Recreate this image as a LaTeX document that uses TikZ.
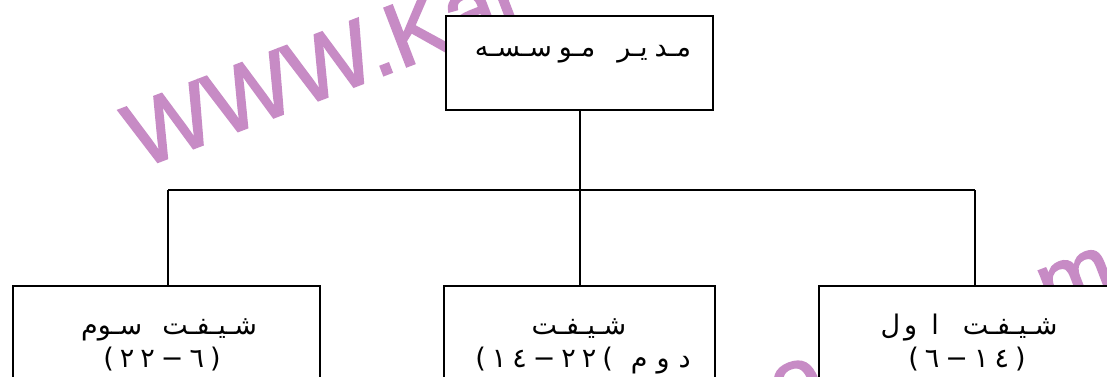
\documentclass[tikz,border=0pt]{standalone}
\usepackage{fontspec}
\setmainfont{Liberation Sans}
\newfontfamily\arabicfont[Script=Arabic]{DejaVu Sans}
\newfontfamily\digitfont{DejaVu Sans}
\newfontfamily\wmfont[FakeBold=2]{Liberation Sans}
\definecolor{wmcol}{HTML}{C78BC5}
\newcommand{\gp}{\hspace{6pt}}
\newcommand{\ar}[1]{{\arabicfont #1}}
\tikzset{
  boxnode/.style={draw=black, line width=2pt, fill=white, inner sep=0pt},
  conn/.style={draw=black, line width=1.6pt},
  lbl/.style={font=\fontsize{27}{30}\selectfont, inner sep=0pt, anchor=base},
  wmtext/.style={font=\wmfont\fontsize{91}{100}\selectfont, text=wmcol, inner sep=0pt, anchor=base west, rotate=21}
}
\begin{document}
\begin{tikzpicture}[x=1pt,y=-1pt]
\useasboundingbox (0,0) rectangle (1107,377);
\clip (0,0) rectangle (1107,377);
\fill[white] (0,0) rectangle (1107,377);
% watermark (behind everything)
\node[wmtext] (wm1) at (140,169) {WWW.Kar};
\node[wmtext, anchor=base] (wm2) at (806,409) {o};
\node[wmtext, anchor=base west] (wm3) at (1050,318) {m};
% boxes
\node[boxnode, minimum width=267pt, minimum height=94pt] (top) at (579.5,63) {};
\node[boxnode, minimum width=307pt, minimum height=120pt] (s3) at (166.5,346) {};
\node[boxnode, minimum width=271pt, minimum height=120pt] (s2) at (579.5,346) {};
\node[boxnode, minimum width=301pt, minimum height=120pt] (s1) at (969.5,346) {};
% connectors
\coordinate (jm) at (580,190);
\coordinate (jl) at (168,190);
\coordinate (jr) at (975,190);
\draw[conn] (top.south -| jm) -- (jm);
\draw[conn] (jl) -- (jr);
\draw[conn] (jl) -- (jl |- s3.north);
\draw[conn] (jm) -- (jm |- s2.north);
\draw[conn] (jr) -- (jr |- s1.north);
% texts (typed in visual order, left to right)
\node[lbl] (t0) at (583,57) {\ar{سـسـه}\hspace{7pt}\ar{مـو}\hspace{22pt}\ar{یـر}\hspace{7pt}\ar{مـد}};
\node[lbl] (t3a) at (169,334) {\ar{سـوم}\hspace{20pt}\ar{شـیـفـت}};
\node[lbl] (t3b) at (162,367) {\digitfont (\gp٢\gp٢\gp−\gp٦\gp)};
\node[lbl] (t2a) at (579,334) {\ar{شـیـفـت}};
\node[lbl] (t2b) at (583,367) {{\digitfont (\gp١\gp٤\gp−\gp٢\gp٢\gp(}\hspace{18pt}\ar{م}\hspace{9pt}\ar{و}\hspace{9pt}\ar{د}};
\node[lbl] (t1a) at (969,334) {\ar{ل}\hspace{4pt}\ar{و}\hspace{14pt}\ar{ا}\hspace{24pt}\ar{شـیـفـت}};
\node[lbl] (t1b) at (967,367) {\digitfont (\gp٦\gp−\gp١\gp٤\gp)};
\end{tikzpicture}
\end{document}
